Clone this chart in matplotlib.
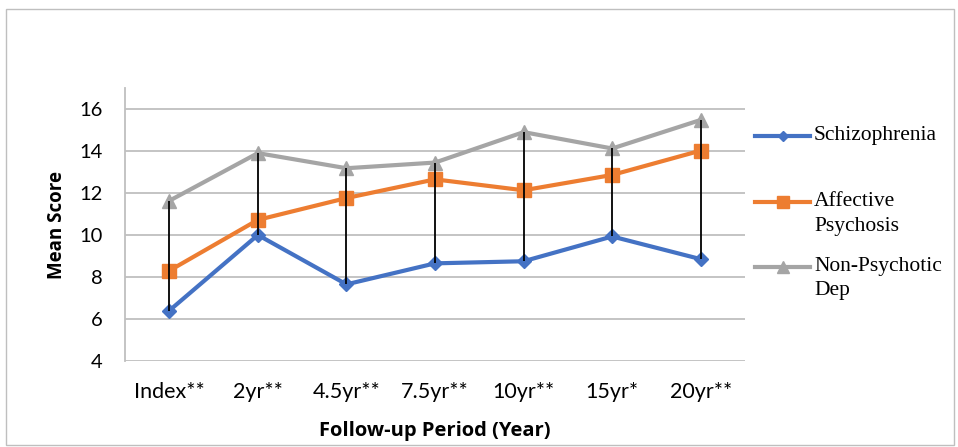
import matplotlib.pyplot as plt
from matplotlib.lines import Line2D

periods = ['Index**', '2yr**', '4.5yr**', '7.5yr**', '10yr**', '15yr*', '20yr**']
schizophrenia = [6.4, 10.0, 7.65, 8.65, 8.75, 9.93, 8.85]
affective = [8.3, 10.72, 11.76, 12.65, 12.13, 12.86, 14.02]
non_psychotic = [11.63, 13.9, 13.18, 13.45, 14.9, 14.12, 15.48]

names = ['Schizophrenia', 'Affective\nPsychosis', 'Non-Psychotic\nDep']
colors = ['#4472C4', '#ED7D31', '#A5A5A5']
markers = ['D', 's', '^']
msizes = [7, 10, 10]

fig = plt.figure(figsize=(9.58, 4.47), dpi=100)
ax = fig.add_axes([0.1305, 0.1924, 0.6472, 0.6107])

x = list(range(len(periods)))
series = [schizophrenia, affective, non_psychotic]
for vals, c, m, ms in zip(series, colors, markers, msizes):
    ax.plot(x, vals, color=c, lw=3, marker=m, ms=ms, zorder=3)

# high-low lines
lows = [min(v) for v in zip(*series)]
highs = [max(v) for v in zip(*series)]
ax.vlines(x, lows, highs, color='black', lw=1.3, zorder=4)

ax.set_xlim(-0.5, len(periods) - 0.5)
ax.set_ylim(4, 17)
ax.set_yticks(range(4, 17, 2))
ax.set_xticks(x)
ax.set_xticklabels(periods)
ax.tick_params(length=0)
ax.tick_params(axis='y', labelsize=14.5, pad=16)
ax.tick_params(axis='x', labelsize=15.5, pad=15)
for lab in ax.get_xticklabels() + ax.get_yticklabels():
    lab.set_family('Lato')
ax.grid(axis='y', color='#BFBFBF', lw=1.3)
ax.set_axisbelow(True)
for s in ['top', 'right', 'bottom']:
    ax.spines[s].set_visible(False)
ax.spines['left'].set_color('#BFBFBF')
ax.spines['left'].set_linewidth(1.3)

ax.set_ylabel('Mean Score', fontsize=13.5, fontweight='bold', family='Open Sans', labelpad=9)
ax.set_xlabel('Follow-up Period (Year)', fontsize=14.5, fontweight='bold', family='Open Sans', labelpad=14)

# legend drawn by hand so handles line up with the first text line
W, H = 958, 447
leg_y = [136, 202, 267]
for name, c, m, ms, y in zip(names, colors, markers, msizes, leg_y):
    yf = 1 - y / H
    fig.add_artist(Line2D([755 / W, 810 / W], [yf, yf], color=c, lw=3))
    fig.add_artist(Line2D([782.5 / W], [yf], color=c, marker=m, ms=ms * 0.8, lw=0))
    for i, line in enumerate(name.split('\n')):
        fig.text(814 / W, 1 - (y + 24 * i) / H, line, family='Liberation Serif',
                 fontsize=15.5, va='center', ha='left')

# chart border
fig.add_artist(plt.Rectangle((6 / W, 2 / H), 948 / W, 436 / H, fill=False,
                             ec='#BFBFBF', lw=1, transform=fig.transFigure))

fig.savefig('out.png', dpi=100)
